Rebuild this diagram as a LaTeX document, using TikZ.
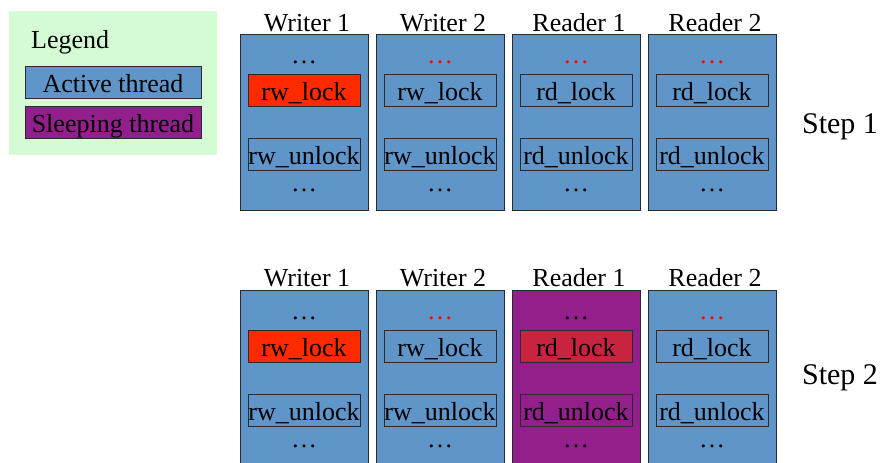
\documentclass[tikz,border=0pt]{standalone}
\usepackage{fontspec}
\setmainfont{Liberation Serif}
\newfontfamily\tms{Liberation Serif}
\definecolor{actblue}{HTML}{5F95C8}
\definecolor{sleeppur}{HTML}{921F8C}
\definecolor{lockred}{HTML}{FF2A00}
\definecolor{sleepred}{HTML}{C8233F}
\definecolor{legbg}{HTML}{D4FBD4}
\definecolor{edge}{HTML}{2A2A2A}
\tikzset{
  every node/.style={font=\tms},
  col/.style={draw=edge, line width=0.9pt, minimum width=128pt, minimum height=176pt, inner sep=0pt},
  act/.style={col, fill=actblue},
  slp/.style={col, fill=sleeppur},
  fn/.style={draw=edge, line width=0.9pt, minimum width=112pt, minimum height=32pt, inner sep=0pt, font=\tms\fontsize{26}{28}\selectfont, text height=24pt, text depth=3pt},
  ttl/.style={anchor=base, font=\tms\fontsize{26}{28}\selectfont, inner sep=0pt},
  dots/.style={anchor=base, font=\tms\fontsize{26}{28}\selectfont, inner sep=0pt},
  stp/.style={anchor=base, font=\tms\fontsize{30}{32}\selectfont, inner sep=0pt},
  leg/.style={draw=edge, line width=0.9pt, minimum width=176pt, minimum height=32pt, inner sep=0pt, font=\tms\fontsize{26}{28}\selectfont, text height=23pt, text depth=3pt}
}
\begin{document}
\begin{tikzpicture}[x=1pt,y=-1pt]
\useasboundingbox (0,0) rectangle (886,463);
% legend
\node[fill=legbg, minimum width=208pt, minimum height=144pt, inner sep=0pt] (legend) at (113,83) {};
\node[anchor=base west, font=\tms\fontsize{26}{28}\selectfont, inner sep=0pt] (legtitle) at (31,48) {Legend};
\node[leg, fill=actblue] (legact) at (113,82) {Active thread};
\node[leg, fill=sleeppur] (legslp) at (113,122) {Sleeping thread};

% step 1
\foreach \n/\x/\t in {a/304/Writer 1, b/440/Writer 2, c/576/Reader 1, d/712/Reader 2}{
  \node[ttl] (t1\n) at (\x+3,31) {\t};
  \node[act] (c1\n) at (\x,122) {};
}
\node[fn, fill=lockred] (l1a) at (304,90) {rw\_lock};
\node[fn] (u1a) at (304,154) {rw\_unlock};
\node[fn] (l1b) at (440,90) {rw\_lock};
\node[fn] (u1b) at (440,154) {rw\_unlock};
\node[fn] (l1c) at (576,90) {rd\_lock};
\node[fn] (u1c) at (576,154) {rd\_unlock};
\node[fn] (l1d) at (712,90) {rd\_lock};
\node[fn] (u1d) at (712,154) {rd\_unlock};
\node[dots] (p1a) at (304,63) {…};
\node[dots, text=red] (p1b) at (440,63) {…};
\node[dots, text=red] (p1c) at (576,63) {…};
\node[dots, text=red] (p1d) at (712,63) {…};
\foreach \n/\x in {a/304, b/440, c/576, d/712}{
  \node[dots] (q1\n) at (\x,191) {…};
}
\node[stp] (s1) at (840,133) {Step 1};

% step 2
\foreach \n/\x/\t in {a/304/Writer 1, b/440/Writer 2, c/576/Reader 1, d/712/Reader 2}{
  \node[ttl] (t2\n) at (\x+3,286) {\t};
}
\node[act] (c2a) at (304,378) {};
\node[act] (c2b) at (440,378) {};
\node[slp] (c2c) at (576,378) {};
\node[act] (c2d) at (712,378) {};
\node[fn, fill=lockred] (l2a) at (304,346) {rw\_lock};
\node[fn] (u2a) at (304,410) {rw\_unlock};
\node[fn] (l2b) at (440,346) {rw\_lock};
\node[fn] (u2b) at (440,410) {rw\_unlock};
\node[fn, fill=sleepred] (l2c) at (576,346) {rd\_lock};
\node[fn] (u2c) at (576,410) {rd\_unlock};
\node[fn] (l2d) at (712,346) {rd\_lock};
\node[fn] (u2d) at (712,410) {rd\_unlock};
\node[dots] (p2a) at (304,319) {…};
\node[dots, text=red] (p2b) at (440,319) {…};
\node[dots] (p2c) at (576,319) {…};
\node[dots, text=red] (p2d) at (712,319) {…};
\foreach \n/\x in {a/304, b/440, c/576, d/712}{
  \node[dots] (q2\n) at (\x,447) {…};
}
\node[stp] (s2) at (840,384) {Step 2};
\end{tikzpicture}
\end{document}
